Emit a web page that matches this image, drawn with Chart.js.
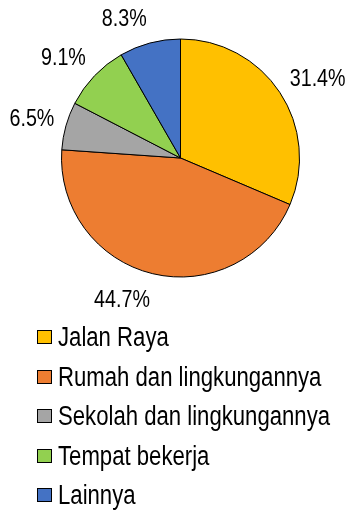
<!DOCTYPE html>
<html>
<head>
<meta charset="utf-8">
<script src="https://cdn.jsdelivr.net/npm/chart.js@4/dist/chart.umd.min.js"></script>
<style>
  html, body { margin: 0; padding: 0; background: #fff; }
  #wrap { position: relative; width: 346px; height: 514px; }
  #pie { position: absolute; left: 0; top: 0; }
  #legend { position: absolute; left: 37px; top: 324px; margin: 0; padding: 0; list-style: none;
            font-family: "Liberation Sans", Arial, sans-serif; font-size: 27px; color: #000; }
  #legend li { height: 39.5px; line-height: 27px; white-space: nowrap; }
  #legend span.box { display: inline-block; width: 13px; height: 12px; border: 1px solid #000;
                     margin-right: 6px; vertical-align: 2px; }
  /* narrow face is not installed, so squeeze the regular one */
  #legend span.txt { display: inline-block; transform: scaleX(0.82); transform-origin: 0 0; }
</style>
</head>
<body>
<div id="wrap">
  <canvas id="pie" width="346" height="514"></canvas>
  <ul id="legend"></ul>
</div>
<script>
// share of locations (percent)
var labels = ["Jalan Raya", "Rumah dan lingkungannya", "Sekolah dan lingkungannya", "Tempat bekerja", "Lainnya"];
var values = [31.4, 44.7, 6.5, 9.1, 8.3];
var colors = ["#FFC000", "#ED7D31", "#A5A5A5", "#92D050", "#4472C4"];

var squeeze = 0.82;

// percentage text just outside each slice
var outsideLabels = {
  id: 'outsideLabels',
  afterDatasetsDraw: function (chart) {
    var ctx = chart.ctx;
    var arcs = chart.getDatasetMeta(0).data;
    ctx.save();
    ctx.font = '24px "Liberation Sans", Arial, sans-serif';
    ctx.fillStyle = '#000';
    ctx.textAlign = 'center';
    ctx.textBaseline = 'middle';
    arcs.forEach(function (arc, i) {
      var mid = (arc.startAngle + arc.endAngle) / 2;
      var c = Math.cos(mid), s = Math.sin(mid);
      var txt = values[i].toFixed(1) + '%';
      var w = ctx.measureText(txt).width * squeeze, h = 18;
      var x = arc.x + c * (arc.outerRadius + 12) + Math.sign(c) * w / 2;
      var y = arc.y + s * (arc.outerRadius + 17) + s * h / 2;
      ctx.save();
      ctx.translate(x, y + 1);
      ctx.scale(squeeze, 1);
      ctx.fillText(txt, 0, 0);
      ctx.restore();
    });
    ctx.restore();
  }
};

window.onload = function () {
  var ctx = document.getElementById('pie').getContext('2d');
  var chart = new Chart(ctx, {
    type: 'pie',
    data: {
      labels: labels,
      datasets: [{
        data: values,
        backgroundColor: colors,
        borderColor: '#000',
        borderWidth: 1
      }]
    },
    options: {
      responsive: false,
      animation: false,
      radius: 119,
      layout: { padding: { left: 15, top: 0, right: 0, bottom: 198 } },
      plugins: {
        legend: { display: false },
        tooltip: { enabled: false }
      }
    },
    plugins: [outsideLabels]
  });

  // legend list built from the same arrays
  var ul = document.getElementById('legend');
  chart.data.labels.forEach(function (name, i) {
    var li = document.createElement('li');
    var box = document.createElement('span');
    box.className = 'box';
    box.style.background = colors[i];
    var txt = document.createElement('span');
    txt.className = 'txt';
    txt.textContent = name;
    li.appendChild(box);
    li.appendChild(txt);
    ul.appendChild(li);
  });
};
</script>
</body>
</html>
